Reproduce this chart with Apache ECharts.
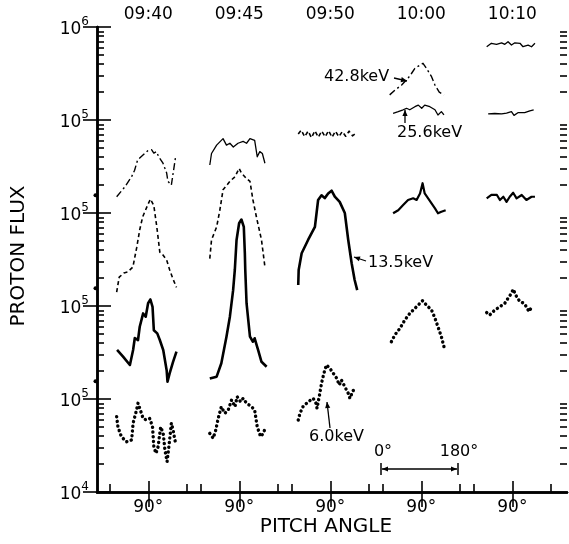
<!DOCTYPE html>
<html><head><meta charset="utf-8">
<script src="https://cdn.jsdelivr.net/npm/echarts@6/dist/echarts.min.js"></script>
<style>html,body{margin:0;padding:0;background:#fff}#c{width:569px;height:544px}</style>
</head><body><div id="c"></div>
<script>
// ---- categories / tick labels ----
const times = ['09:40', '09:45', '09:50', '10:00', '10:10'];
const yTickExp = ['4', '5', '5', '5', '5', '6'];     // exponent shown at each stacked decade line (bottom -> top)
const angleTicks = [0, 90, 180];
const angleLabel = '90°';

// ---- curves: [pitch angle (deg), stacked log-flux position (decades above bottom)] ----
// 09:40
const c1_dashdot = [[16,3.175],[35,3.28],[51,3.39],[58,3.46],[65,3.57],[77,3.62],[89,3.67],[98,3.68],[103,3.645],[109,3.66],[115,3.60],[124,3.54],[133,3.43],[136,3.34],[144,3.30],[147,3.32],[154,3.605]];
const c1_dashed = [[16,2.15],[22,2.31],[33,2.355],[42,2.366],[54,2.42],[63,2.63],[70,2.82],[77,2.96],[89,3.09],[95,3.15],[103,3.08],[110,2.85],[117,2.58],[124,2.55],[133,2.495],[140,2.39],[147,2.30],[156,2.20]];
const c1_solid = [[17,1.527],[31,1.455],[47,1.366],[54.5,1.527],[58.5,1.656],[66,1.634],[70,1.777],[78,1.92],[84,1.885],[89.6,2.03],[95,2.07],[100,1.99],[103,1.74],[111,1.706],[117,1.634],[125,1.527],[133,1.31],[135,1.186],[140,1.276],[148,1.40],[156,1.51]];
const c1_dotted = [[16,0.81],[19,0.70],[27,0.595],[39,0.54],[51,0.56],[54.5,0.74],[62.5,0.88],[66,0.955],[74,0.846],[78,0.79],[86,0.774],[93.6,0.79],[100,0.70],[103,0.487],[108,0.416],[113,0.487],[119,0.70],[125,0.63],[129,0.45],[134,0.326],[139,0.52],[144,0.74],[148,0.667],[154,0.52]];
// 09:45
const c2_thin = [[21,3.516],[25,3.64],[37,3.73],[52,3.80],[60,3.73],[68,3.75],[76,3.71],[87,3.75],[99,3.77],[107,3.75],[115,3.80],[126,3.78],[132,3.605],[138,3.66],[144,3.64],[150,3.535]];
const c2_dashed = [[21,2.51],[25,2.71],[37,2.85],[44.5,3.03],[52,3.25],[68,3.34],[80,3.39],[89.6,3.48],[95,3.43],[107,3.37],[115,3.34],[122,3.14],[130,2.96],[142,2.71],[150,2.42]];
const c2_solid = [[21,1.22],[37,1.24],[48,1.384],[60,1.67],[68,1.885],[75.6,2.17],[79.6,2.39],[83.6,2.71],[89.6,2.89],[95,2.93],[100.6,2.85],[103,2.57],[104,2.39],[107,2.03],[115,1.67],[122,1.616],[126,1.653],[134,1.527],[142,1.40],[154,1.347]];
const c2_dotted = [[21,0.63],[29,0.577],[35,0.667],[40.5,0.79],[48,0.917],[56,0.846],[64,0.88],[72,0.99],[80,0.917],[85,1.025],[93,0.97],[99,1.007],[107,0.954],[119,0.917],[126,0.88],[132,0.70],[140,0.595],[146,0.63],[152,0.70]];
// 09:50
const c3_dashed = [[15,3.85],[22,3.89],[30,3.82],[38,3.88],[46,3.81],[54,3.885],[62,3.815],[70,3.88],[78,3.82],[86,3.885],[94,3.815],[102,3.88],[110,3.82],[118,3.875],[126,3.825],[134,3.88],[142,3.83],[151,3.86]];
const c3_solid = [[15,2.226],[16,2.387],[23,2.567],[38,2.71],[54,2.85],[61.5,3.14],[69.5,3.19],[77,3.16],[85,3.21],[93,3.24],[100.6,3.175],[112,3.12],[124,3.00],[132,2.71],[140,2.46],[147,2.28],[153,2.17]];
const c3_dotted = [[15,0.774],[19,0.846],[26,0.917],[38,0.97],[50,1.007],[56,0.96],[59,0.90],[65.5,1.061],[69.5,1.169],[75,1.276],[81,1.366],[89,1.33],[97,1.276],[105,1.223],[111,1.15],[116,1.204],[124,1.132],[132,1.061],[136,1.007],[142,1.078],[147,1.115]];
// 10:00
const c4_dashdot = [[16,4.27],[28,4.32],[44,4.376],[59,4.45],[67,4.50],[75,4.556],[87,4.59],[94,4.61],[102,4.556],[114,4.466],[122,4.376],[132,4.30],[143,4.27]];
const c4_thin = [[24,4.072],[36,4.09],[47.5,4.11],[55.5,4.126],[63,4.11],[75,4.143],[83,4.16],[91,4.126],[98,4.16],[110,4.143],[122,4.11],[129,4.054],[137,4.09],[143,4.054]];
const c4_solid = [[24,2.997],[36,3.03],[47.5,3.086],[59,3.14],[71,3.158],[79,3.14],[87,3.21],[93,3.32],[98,3.21],[106,3.158],[114,3.104],[122,3.05],[129,2.997],[137,3.014],[147,3.03]];
const c4_dotted = [[20,1.616],[28,1.688],[40,1.76],[51.5,1.85],[63,1.92],[75,1.975],[87,2.03],[93,2.057],[102,2.01],[114,1.957],[122,1.868],[129,1.777],[137,1.67],[145,1.527]];
// 10:10
const c5_thinTop = [[30,4.788],[41,4.825],[53,4.814],[65,4.83],[72.5,4.814],[80,4.842],[88,4.806],[96,4.83],[108,4.825],[115,4.788],[127,4.806],[135,4.788],[143,4.825]];
const c5_thin = [[33.5,4.065],[49,4.07],[65,4.065],[76.5,4.075],[88,4.09],[94,4.05],[104,4.08],[119,4.08],[131,4.097],[140,4.108]];
const c5_solid = [[30,3.158],[41,3.194],[54,3.194],[61,3.14],[69,3.175],[76.5,3.12],[84,3.175],[92,3.218],[100,3.158],[112,3.194],[123,3.14],[135,3.175],[143,3.175]];
const c5_dotted = [[30,1.93],[37,1.903],[49,1.957],[61,1.992],[72.5,2.03],[80,2.083],[88,2.137],[92,2.18],[100,2.10],[108,2.046],[117,2.03],[123,1.992],[129,1.94],[135,1.986]];

// ---- layout of panels along the shared pitch-angle axis ----
const PANEL_START = 30, PANEL_STEP = 213, X_MAX = 1100, Y_MAX = 5;
const off = c => PANEL_START + c * PANEL_STEP;

const FONT = 'DejaVu Sans';
const styles = {
  dashdot: { width: 1.4, type: [7, 3, 2, 3] },
  thin:    { width: 1.3, type: 'solid' },
  dashed:  { width: 1.6, type: [4, 3] },
  thick:   { width: 2.6, type: 'solid' },
  medium:  { width: 2.2, type: 'solid' },
  dots:    { width: 3.4, type: [0.1, 4.6], cap: 'round' }
};
const curves = [
  [c1_dashdot, 0, 'dashdot'], [c1_dashed, 0, 'dashed'], [c1_solid, 0, 'thick'], [c1_dotted, 0, 'dots'],
  [c2_thin, 1, 'thin'], [c2_dashed, 1, 'dashed'], [c2_solid, 1, 'thick'], [c2_dotted, 1, 'dots'],
  [c3_dashed, 2, 'dashed'], [c3_solid, 2, 'thick'], [c3_dotted, 2, 'dots'],
  [c4_dashdot, 3, 'dashdot'], [c4_thin, 3, 'thin'], [c4_solid, 3, 'medium'], [c4_dotted, 3, 'dots'],
  [c5_thinTop, 4, 'thin'], [c5_thin, 4, 'thin'], [c5_solid, 4, 'medium'], [c5_dotted, 4, 'dots']
];

const series = curves.map(([arr, col, st]) => ({
  type: 'line', xAxisIndex: 0, yAxisIndex: 0, showSymbol: false, silent: true,
  data: arr.map(([a, v]) => [off(col) + a, v]),
  lineStyle: Object.assign({ color: '#000', join: 'round' }, styles[st])
}));

const minorX = [], majorX = [];
times.forEach((t, c) => { minorX.push(off(c) + angleTicks[0], off(c) + angleTicks[2]); majorX.push(off(c) + angleTicks[1]); });
const majorY = yTickExp.map((e, i) => i);
const minorY = [];
for (let k = 0; k < Y_MAX; k++) for (let m = 2; m <= 9; m++) minorY.push(k + Math.log10(m));

const axisLine = { show: true, lineStyle: { color: '#000', width: 2.5 } };
const noLine = { show: false };
function yAx(pos, ticks, len, labels) {
  return {
    type: 'value', position: pos, min: 0, max: Y_MAX, splitLine: { show: false },
    axisLine: labels !== undefined || len > 10 ? axisLine : noLine,
    axisTick: { show: true, inside: true, length: len, customValues: ticks, lineStyle: { color: '#000', width: 1.6 } },
    axisLabel: labels ? {
      show: true, customValues: majorY, margin: 8, fontFamily: FONT,
      formatter: v => '{b|10}{s|' + yTickExp[Math.round(v)] + '}',
      rich: {
        b: { fontSize: 17, fontFamily: FONT, color: '#000', lineHeight: 22, verticalAlign: 'bottom' },
        s: { fontSize: 12, fontFamily: FONT, color: '#000', lineHeight: 12, verticalAlign: 'top' }
      }
    } : { show: false }
  };
}

const chart = echarts.init(document.getElementById('c'), null, { renderer: 'canvas' });

function arrow(x1, y1, x2, y2) {
  const a = Math.atan2(y2 - y1, x2 - x1), L = 6, W = 2.6;
  return [
    { type: 'line', silent: true, z: 50, shape: { x1, y1, x2, y2 }, style: { stroke: '#000', lineWidth: 1.3 } },
    { type: 'polygon', silent: true, z: 50, shape: { points: [[x2, y2],
      [x2 - L * Math.cos(a) + W * Math.sin(a), y2 - L * Math.sin(a) - W * Math.cos(a)],
      [x2 - L * Math.cos(a) - W * Math.sin(a), y2 - L * Math.sin(a) + W * Math.cos(a)]] }, style: { fill: '#000' } }
  ];
}
function txt(text, x, y, size, align, rot) {
  return { type: 'text', x, y, rotation: rot || 0, silent: true, z: 50,
    style: { text, fill: '#000', fontSize: size, fontFamily: FONT, align: align || 'left', verticalAlign: 'middle' } };
}

const graphics = [
  txt('PROTON FLUX', 19, 256, 20, 'center', Math.PI / 2),
  txt('PITCH ANGLE', 326, 527, 20, 'center'),
  txt('42.8keV', 324, 77, 16),
  txt('25.6keV', 397, 133, 16),
  txt('13.5keV', 368, 263, 16),
  txt('6.0keV', 309, 437, 16),
  txt('0°', 383, 452, 16, 'center'),
  txt('180°', 459, 452, 16, 'center'),
  ...arrow(394, 78, 407, 81),
  ...arrow(405, 123, 405, 110),
  ...arrow(366, 261, 354, 257),
  ...arrow(330, 428, 327, 402),
  ...arrow(420, 469, 382, 469),
  ...arrow(420, 469, 457, 469),
  { type: 'line', silent: true, z: 50, shape: { x1: 381, y1: 463, x2: 381, y2: 475 }, style: { stroke: '#000', lineWidth: 1.5 } },
  { type: 'line', silent: true, z: 50, shape: { x1: 458, y1: 463, x2: 458, y2: 475 }, style: { stroke: '#000', lineWidth: 1.5 } }
];
// axis break marks on the left axis
[1, 2, 3].forEach(k => graphics.push({ type: 'circle', silent: true, z: 50,
  shape: { cx: 95.5, cy: 492 - 93 * (k + 0.19), r: 2 }, style: { fill: '#000' } }));

chart.setOption({
  animation: false,
  backgroundColor: '#fff',
  grid: { left: 97, right: 2, top: 27, bottom: 52, containLabel: false, outerBoundsMode: 'none' },
  xAxis: [
    { type: 'value', position: 'bottom', min: 0, max: X_MAX, splitLine: { show: false }, axisLine,
      axisTick: { show: true, inside: true, length: 8, customValues: minorX, lineStyle: { color: '#000', width: 1.6 } },
      axisLabel: { show: false } },
    { type: 'value', position: 'bottom', min: 0, max: X_MAX, splitLine: { show: false }, axisLine: noLine,
      axisTick: { show: true, inside: true, length: 11, customValues: majorX, lineStyle: { color: '#000', width: 1.6 } },
      axisLabel: { show: true, customValues: majorX, margin: 7, formatter: () => angleLabel,
        color: '#000', fontSize: 17, fontFamily: FONT } },
    { type: 'value', position: 'top', min: 0, max: X_MAX, splitLine: { show: false }, axisLine,
      axisTick: { show: true, inside: true, length: 15, customValues: majorX, lineStyle: { color: '#000', width: 1.6 } },
      axisLabel: { show: true, customValues: majorX, margin: 4, color: '#000', fontSize: 17, fontFamily: FONT,
        formatter: v => times[Math.round((v - PANEL_START - 90) / PANEL_STEP)] } }
  ],
  yAxis: [
    yAx('left', majorY, 14, true),
    yAx('left', minorY, 7),
    yAx('right', majorY, 14, false),
    yAx('right', minorY, 7)
  ],
  series,
  graphic: graphics
});
</script></body></html>
